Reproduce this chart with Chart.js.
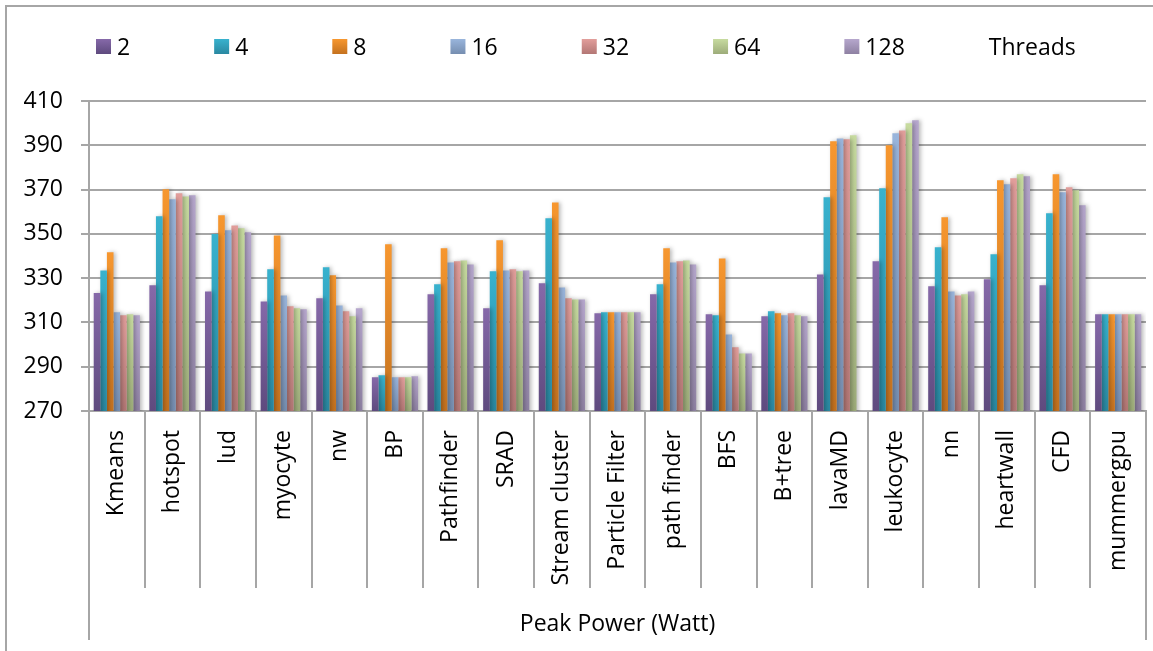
<!DOCTYPE html>
<html lang="en">
<head>
    <meta charset="utf-8" />
    <title>Peak Power</title>
    <script src="https://cdn.jsdelivr.net/npm/chart.js"></script>
    <style>
        html, body { margin: 0; padding: 0; background: #fff; }
        #wrap { width: 1153px; height: 651px; }
    </style>
</head>
<body>
    <div id="wrap"><canvas id="powerChart"></canvas></div>

    <script>
        const benchmarks = ['Kmeans', 'hotspot', 'lud', 'myocyte', 'nw', 'BP', 'Pathfinder', 'SRAD',
            'Stream cluster', 'Particle Filter', 'path finder', 'BFS', 'B+tree', 'lavaMD', 'leukocyte',
            'nn', 'heartwall', 'CFD', 'mummergpu'];
        const threadCounts = ['2', '4', '8', '16', '32', '64', '128'];

        const t2   = [323.3, 326.8, 324.0, 319.5, 320.9, 285.2, 322.7, 316.4, 327.7, 314.1, 322.7, 313.7, 312.8, 331.7, 337.6, 326.3, 329.5, 326.8, 313.7];
        const t4   = [333.5, 357.9, 349.9, 334.0, 334.9, 286.1, 327.2, 333.1, 357.0, 314.6, 327.2, 313.2, 315.0, 366.5, 370.6, 343.9, 340.8, 359.3, 313.7];
        const t8   = [341.7, 370.1, 358.4, 349.3, 331.3, 345.3, 343.5, 347.1, 364.2, 314.6, 343.5, 338.9, 314.1, 391.8, 390.0, 357.5, 374.2, 376.9, 313.7];
        const t16  = [314.6, 365.6, 351.6, 322.2, 317.7, 285.2, 337.1, 333.5, 325.8, 314.6, 337.1, 304.6, 313.2, 393.1, 395.4, 324.0, 372.4, 368.8, 313.7];
        const t32  = [313.2, 368.3, 353.8, 317.3, 315.0, 285.2, 337.6, 334.0, 320.9, 314.6, 337.6, 298.8, 314.1, 392.7, 396.7, 322.2, 375.1, 371.0, 313.7];
        const t64  = [313.7, 366.9, 352.5, 316.4, 312.8, 285.2, 338.0, 333.1, 320.4, 314.6, 338.0, 296.0, 313.2, 394.5, 399.9, 322.7, 376.9, 369.7, 313.7];
        const t128 = [313.2, 367.4, 350.7, 315.9, 316.4, 285.7, 336.2, 333.5, 320.4, 314.6, 336.2, 296.0, 312.8, null, 401.3, 324.0, 376.0, 362.9, 313.7];

        const yTicks = [270, 290, 310, 330, 350, 370, 390, 410];

        const seriesValues = [t2, t4, t8, t16, t32, t64, t128];
        // light top / dark bottom for each bar
        const shades = [
            ['#8669a9', '#5e4a7e'],
            ['#38b2ce', '#2a88a1'],
            ['#f7972f', '#c4721f'],
            ['#99b5dc', '#768eb0'],
            ['#e29e9b', '#b37775'],
            ['#c7db9f', '#9dac7a'],
            ['#b6a7cd', '#8e81a2']
        ];

        const FONT = { family: 'Open Sans', size: 23 };
        const GRID = '#a6a6a6';

        function barGradient(i) {
            return function (ctx) {
                const chart = ctx.chart;
                const y = chart.scales.y;
                if (!chart.chartArea || !y || ctx.raw == null) return shades[i][0];
                const top = y.getPixelForValue(ctx.raw);
                const bottom = y.getPixelForValue(y.min);
                const g = chart.ctx.createLinearGradient(0, top, 0, bottom);
                g.addColorStop(0, shades[i][0]);
                g.addColorStop(1, shades[i][1]);
                return g;
            };
        }

        // frame, legend row and the outer bracket under the category labels
        const decorations = {
            id: 'decorations',
            beforeDraw(chart) {
                const c = chart.ctx;
                c.save();
                c.strokeStyle = GRID;
                c.lineWidth = 2;
                c.beginPath();
                c.moveTo(6, chart.height);
                c.lineTo(6, 6);
                c.lineTo(chart.width, 6);
                c.stroke();
                c.restore();
            },
            beforeDatasetsDraw(chart) {
                const c = chart.ctx;
                c.save();
                c.shadowColor = 'rgba(0,0,0,0.28)';
                c.shadowBlur = 4;
                c.shadowOffsetX = 2;
                c.shadowOffsetY = 0;
            },
            afterDatasetsDraw(chart) {
                chart.ctx.restore();
            },
            afterDraw(chart) {
                const c = chart.ctx;
                const area = chart.chartArea;
                c.save();
                c.strokeStyle = GRID;
                c.lineWidth = 2;
                c.beginPath();
                c.moveTo(area.left, area.bottom);
                c.lineTo(area.left, 640);
                c.moveTo(area.right, area.bottom);
                c.lineTo(area.right, 640);
                c.stroke();

                // legend
                c.font = FONT.size + 'px "' + FONT.family + '"';
                c.textBaseline = 'middle';
                c.fillStyle = '#000';
                let x = 96;
                const boxTop = 39, box = 15, midY = 48;
                chart.data.datasets.forEach((ds, i) => {
                    const g = c.createLinearGradient(0, boxTop, 0, boxTop + box);
                    g.addColorStop(0, shades[i][0]);
                    g.addColorStop(1, shades[i][1]);
                    c.fillStyle = g;
                    c.fillRect(x, boxTop, box, box);
                    c.fillStyle = '#000';
                    c.fillText(ds.label, x + 21, midY);
                    x += 21 + c.measureText(ds.label).width + 84;
                });
                c.fillText('Threads', x, midY);
                c.restore();
            }
        };

        const ctx = document.getElementById('powerChart').getContext('2d');
        const powerChart = new Chart(ctx, {
            type: 'bar',
            data: {
                labels: benchmarks,
                datasets: seriesValues.map((vals, i) => ({
                    label: threadCounts[i],
                    data: vals,
                    backgroundColor: barGradient(i),
                    borderWidth: 0,
                    categoryPercentage: 0.83,
                    barPercentage: 1.0
                }))
            },
            options: {
                responsive: true,
                maintainAspectRatio: false,
                animation: false,
                layout: { padding: { top: 101, left: 0, right: 7, bottom: 0 } },
                plugins: {
                    legend: { display: false },
                    tooltip: { enabled: false }
                },
                scales: {
                    x: {
                        offset: true,
                        grid: {
                            offset: true,
                            drawOnChartArea: false,
                            drawTicks: true,
                            tickLength: 177,
                            color: GRID,
                            lineWidth: 2
                        },
                        border: { color: GRID, width: 2 },
                        ticks: {
                            minRotation: 90,
                            maxRotation: 90,
                            autoSkip: false,
                            padding: -158,
                            color: '#000',
                            font: FONT
                        },
                        title: {
                            display: true,
                            text: 'Peak Power (Watt)',
                            color: '#000',
                            font: FONT,
                            padding: { top: 0, bottom: 13 }
                        },
                        afterFit(scale) { scale.height = 240; }
                    },
                    y: {
                        min: 270,
                        max: 410,
                        afterBuildTicks(scale) { scale.ticks = yTicks.map(v => ({ value: v })); },
                        grid: { color: GRID, lineWidth: 2, tickLength: 8 },
                        border: { color: GRID, width: 2 },
                        ticks: { color: '#000', font: FONT, padding: 18 },
                        afterFit(scale) { scale.width = 89; }
                    }
                }
            },
            plugins: [decorations]
        });
    </script>
</body>
</html>
